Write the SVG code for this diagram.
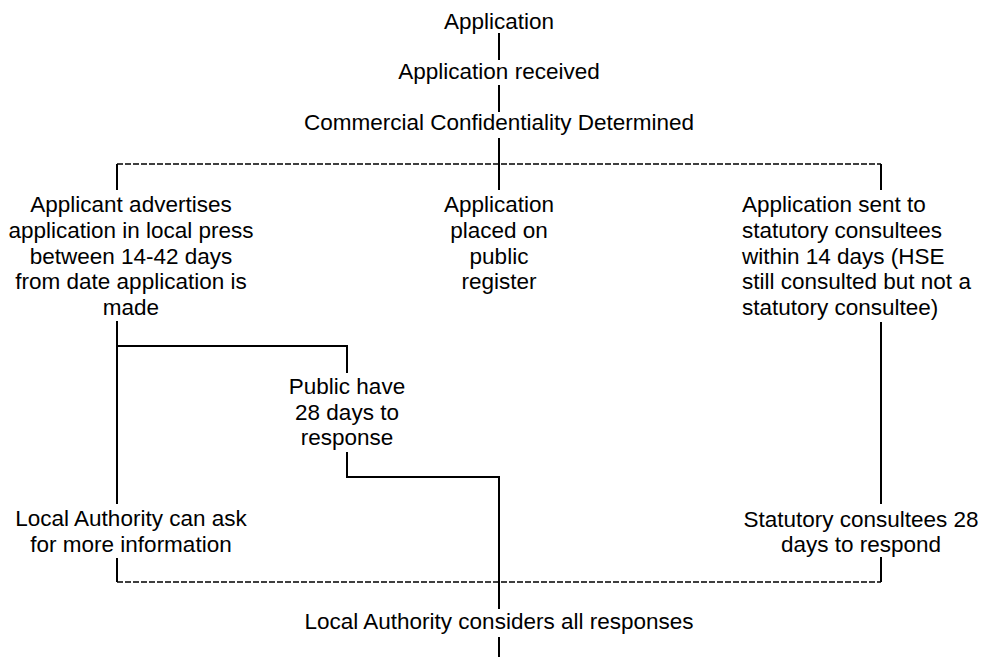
<svg xmlns="http://www.w3.org/2000/svg" width="989" height="657" viewBox="0 0 989 657">
<style>
text{font-family:"Liberation Sans",Arial,sans-serif;font-size:22.5px;fill:#000}
.c{text-anchor:middle}
.l{text-anchor:start}
.s{fill:none;stroke:#000;stroke-width:2}
.d{fill:none;stroke:#000;stroke-width:1.6;stroke-dasharray:6,2}
</style>
<rect width="989" height="657" fill="#fff"/>
<g id="connectors">
<line class="s" x1="499" y1="33" x2="499" y2="60"/>
<line class="s" x1="499" y1="85" x2="499" y2="112"/>
<line class="s" x1="499" y1="138" x2="499" y2="190"/>
<line class="d" x1="117" y1="164" x2="881" y2="164"/>
<line class="s" x1="117" y1="164" x2="117" y2="190"/>
<line class="s" x1="881" y1="164" x2="881" y2="190"/>
<polyline class="s" points="117,321 117,504"/>
<polyline class="s" points="117,346 347,346 347,373"/>
<polyline class="s" points="347,452 347,477 499,477 499,609"/>
<polyline class="s" points="881,322 881,504"/>
<polyline class="s" points="117,558 117,582"/>
<polyline class="s" points="881,557 881,582"/>
<line class="d" x1="117" y1="582" x2="881" y2="582"/>
<line class="s" x1="499" y1="637" x2="499" y2="657"/>
</g>
<g id="application"><text class="c" x="499" y="29">Application</text></g>
<g id="received"><text class="c" x="499" y="79">Application received</text></g>
<g id="confidentiality"><text class="c" x="499" y="130">Commercial Confidentiality Determined</text></g>
<g id="advertises">
<text class="c" x="131" y="212">Applicant advertises</text>
<text class="c" x="131" y="238">application in local press</text>
<text class="c" x="131" y="264">between 14-42 days</text>
<text class="c" x="131" y="289">from date application is</text>
<text class="c" x="131" y="315">made</text>
</g>
<g id="register">
<text class="c" x="499" y="212">Application</text>
<text class="c" x="499" y="238">placed on</text>
<text class="c" x="499" y="264">public</text>
<text class="c" x="499" y="289">register</text>
</g>
<g id="consultees">
<text class="l" x="742" y="212">Application sent to</text>
<text class="l" x="742" y="238">statutory consultees</text>
<text class="l" x="742" y="264">within 14 days (HSE</text>
<text class="l" x="742" y="289">still consulted but not a</text>
<text class="l" x="742" y="315">statutory consultee)</text>
</g>
<g id="public">
<text class="c" x="347" y="394">Public have</text>
<text class="c" x="347" y="420">28 days to</text>
<text class="c" x="347" y="445">response</text>
</g>
<g id="moreinfo">
<text class="c" x="131" y="526">Local Authority can ask</text>
<text class="c" x="131" y="552">for more information</text>
</g>
<g id="respond">
<text class="c" x="861" y="527">Statutory consultees 28</text>
<text class="c" x="861" y="552">days to respond</text>
</g>
<g id="considers"><text class="c" x="499" y="629">Local Authority considers all responses</text></g>
</svg>
